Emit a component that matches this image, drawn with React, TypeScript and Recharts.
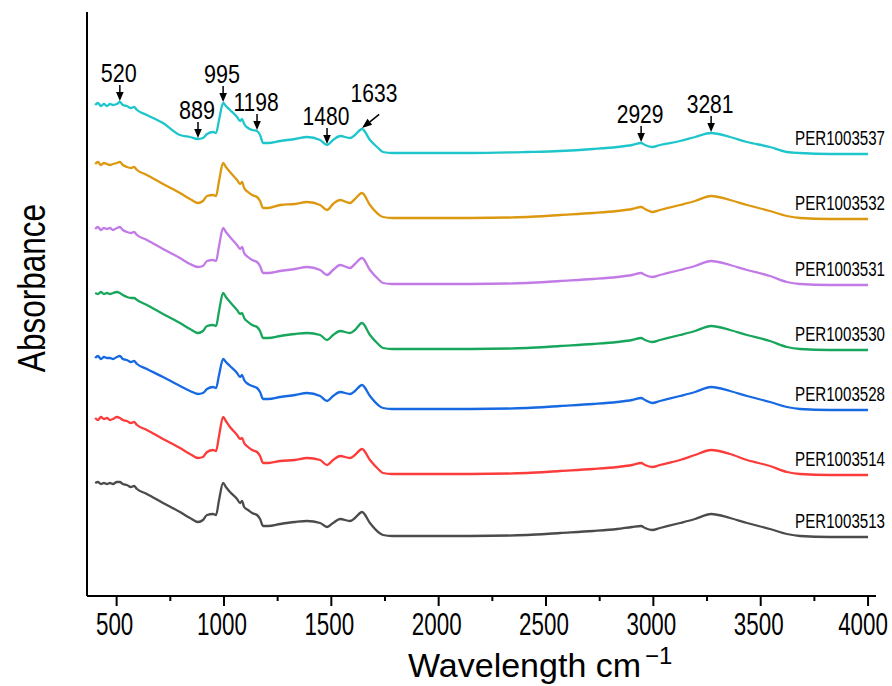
import React from "react";
import { LineChart, Line, XAxis, YAxis, ReferenceDot, Label } from "recharts";

const FONT = "'Liberation Sans', Arial, sans-serif";

// wavenumber grid (cm-1), shared by all spectra
const wavenumbers = [
  400, 413, 427, 441, 455, 469, 483, 501, 515, 529,
  548, 567, 581, 595, 641, 716, 795, 842, 879, 902,
  921, 949, 963, 977, 996, 1009, 1028, 1061, 1075, 1084,
  1094, 1112, 1131, 1154, 1168, 1182, 1206, 1262, 1331, 1387,
  1448, 1480, 1508, 1541, 1587, 1610, 1643, 1680, 1718, 1741,
  1783, 1913, 2146, 2411, 2565, 2719, 2831, 2901, 2943, 2961,
  2994, 3031, 3124, 3194, 3269, 3357, 3436, 3543, 3622, 3683,
  3823, 4000,
];

// absorbance (stacked, a.u.)
const per1003537 = [
  4.91, 4.93, 4.9, 4.92, 4.9, 4.92, 4.91, 4.92, 4.94, 4.91,
  4.9, 4.88, 4.89, 4.86, 4.81, 4.73, 4.61, 4.59, 4.57, 4.58,
  4.62, 4.64, 4.63, 4.76, 4.93, 4.9, 4.86, 4.79, 4.75, 4.77,
  4.72, 4.68, 4.66, 4.65, 4.61, 4.53, 4.53, 4.55, 4.57, 4.59,
  4.56, 4.51, 4.56, 4.6, 4.58, 4.61, 4.67, 4.56, 4.48, 4.44,
  4.43, 4.43, 4.43, 4.44, 4.45, 4.47, 4.49, 4.51, 4.53, 4.51,
  4.49, 4.51, 4.55, 4.59, 4.63, 4.59, 4.54, 4.49, 4.44, 4.43,
  4.42, 4.42,
];
const per1003532 = [
  4.32, 4.34, 4.31, 4.33, 4.32, 4.31, 4.32, 4.33, 4.34, 4.31,
  4.29, 4.28, 4.29, 4.26, 4.21, 4.12, 4.03, 3.97, 3.93, 3.95,
  4.0, 4.01, 4.0, 4.15, 4.33, 4.29, 4.24, 4.16, 4.12, 4.14,
  4.08, 4.04, 4.01, 3.99, 3.95, 3.88, 3.88, 3.91, 3.92, 3.94,
  3.91, 3.86, 3.92, 3.96, 3.93, 3.97, 4.03, 3.91, 3.82, 3.79,
  3.78, 3.78, 3.78, 3.79, 3.81, 3.83, 3.85, 3.87, 3.89, 3.87,
  3.84, 3.86, 3.91, 3.95, 4.0, 3.96, 3.91, 3.85, 3.8, 3.78,
  3.77, 3.77,
];
const per1003531 = [
  3.67, 3.69, 3.66, 3.68, 3.67, 3.68, 3.66, 3.68, 3.69, 3.66,
  3.64, 3.63, 3.64, 3.61, 3.56, 3.47, 3.38, 3.32, 3.29, 3.3,
  3.35, 3.36, 3.35, 3.5, 3.68, 3.64, 3.59, 3.51, 3.47, 3.49,
  3.43, 3.39, 3.36, 3.34, 3.3, 3.23, 3.23, 3.25, 3.27, 3.29,
  3.26, 3.21, 3.26, 3.31, 3.28, 3.32, 3.38, 3.26, 3.17, 3.13,
  3.12, 3.12, 3.12, 3.13, 3.15, 3.17, 3.19, 3.21, 3.23, 3.21,
  3.19, 3.21, 3.26, 3.3, 3.35, 3.31, 3.26, 3.2, 3.14, 3.12,
  3.11, 3.11,
];
const per1003530 = [
  3.03, 3.02, 3.04, 3.02, 3.03, 3.02, 3.03, 3.04, 3.03, 3.01,
  2.99, 2.98, 2.98, 2.96, 2.91, 2.82, 2.73, 2.67, 2.63, 2.65,
  2.7, 2.71, 2.7, 2.85, 3.03, 2.99, 2.94, 2.86, 2.82, 2.83,
  2.78, 2.74, 2.71, 2.69, 2.65, 2.58, 2.58, 2.6, 2.62, 2.63,
  2.61, 2.56, 2.61, 2.65, 2.63, 2.66, 2.73, 2.61, 2.52, 2.48,
  2.47, 2.47, 2.47, 2.48, 2.5, 2.52, 2.54, 2.56, 2.58, 2.56,
  2.54, 2.56, 2.61, 2.65, 2.7, 2.66, 2.61, 2.55, 2.49, 2.47,
  2.46, 2.46,
];
const per1003528 = [
  2.38, 2.4, 2.37, 2.39, 2.38, 2.38, 2.37, 2.39, 2.4, 2.37,
  2.36, 2.34, 2.35, 2.32, 2.27, 2.19, 2.1, 2.05, 2.02, 2.03,
  2.07, 2.09, 2.08, 2.21, 2.37, 2.34, 2.3, 2.23, 2.19, 2.21,
  2.16, 2.12, 2.1, 2.08, 2.04, 1.97, 1.97, 1.99, 2.01, 2.03,
  2.0, 1.95, 2.0, 2.04, 2.02, 2.05, 2.11, 2.0, 1.91, 1.88,
  1.87, 1.87, 1.87, 1.88, 1.9, 1.92, 1.94, 1.96, 1.98, 1.96,
  1.93, 1.95, 2.0, 2.04, 2.09, 2.05, 2.0, 1.94, 1.89, 1.87,
  1.86, 1.86,
];
const per1003514 = [
  1.78, 1.76, 1.79, 1.77, 1.78, 1.76, 1.77, 1.79, 1.78, 1.76,
  1.75, 1.73, 1.74, 1.71, 1.66, 1.57, 1.48, 1.42, 1.38, 1.39,
  1.44, 1.46, 1.45, 1.6, 1.79, 1.75, 1.69, 1.61, 1.57, 1.58,
  1.53, 1.49, 1.46, 1.44, 1.4, 1.33, 1.33, 1.35, 1.36, 1.38,
  1.36, 1.31, 1.36, 1.4, 1.38, 1.41, 1.47, 1.36, 1.27, 1.23,
  1.22, 1.22, 1.22, 1.23, 1.25, 1.27, 1.29, 1.31, 1.33, 1.31,
  1.29, 1.31, 1.36, 1.41, 1.46, 1.42, 1.36, 1.3, 1.24, 1.22,
  1.21, 1.21,
];
const per1003513 = [
  1.13, 1.14, 1.12, 1.13, 1.12, 1.13, 1.12, 1.14, 1.14, 1.12,
  1.11, 1.09, 1.1, 1.07, 1.02, 0.93, 0.84, 0.78, 0.74, 0.76,
  0.81, 0.82, 0.81, 0.96, 1.13, 1.09, 1.04, 0.97, 0.93, 0.95,
  0.89, 0.86, 0.83, 0.81, 0.77, 0.7, 0.7, 0.72, 0.74, 0.75,
  0.73, 0.69, 0.73, 0.77, 0.75, 0.78, 0.84, 0.73, 0.64, 0.61,
  0.6, 0.6, 0.6, 0.61, 0.63, 0.65, 0.67, 0.69, 0.7, 0.68,
  0.66, 0.68, 0.73, 0.77, 0.82, 0.78, 0.73, 0.67, 0.62, 0.6,
  0.59, 0.59,
];

const seriesNames = [
  "PER1003537", "PER1003532", "PER1003531", "PER1003530",
  "PER1003528", "PER1003514", "PER1003513",
];
const seriesValues = [
  per1003537, per1003532, per1003531, per1003530,
  per1003528, per1003514, per1003513,
];
const seriesColors = [
  "#1ec6cb", "#dc980e", "#c27be6", "#17a65b",
  "#1769e2", "#fc3b3b", "#4b4b4b",
];

// band annotations on the top spectrum
const peakLabels = ["520", "889", "995", "1198", "1480", "1633", "2929", "3281"];
const peakAt = [515, 879, 996, 1154, 1480, 1643, 2943, 3269];

const xTicks = [500, 750, 1000, 1250, 1500, 1750, 2000, 2250, 2500, 2750, 3000, 3250, 3500, 3750, 4000];

const data = wavenumbers.map((x, i) => {
  const row: Record<string, number> = { x };
  seriesValues.forEach((s, k) => {
    row["s" + k] = s[i];
  });
  return row;
});

// condensed-looking text: real text squeezed horizontally
function Narrow({ x, y, size, sx, anchor = "middle", rotate = 0, baseline, children }: any) {
  const tf = `translate(${x},${y})${rotate ? ` rotate(${rotate})` : ""} scale(${sx},1)`;
  return (
    <text
      transform={tf}
      x={0}
      y={0}
      textAnchor={anchor}
      dominantBaseline={baseline}
      fontSize={size}
      fontFamily={FONT}
      fill="#000"
    >
      {children}
    </text>
  );
}

function XTick(props: any) {
  const { x, y, payload } = props;
  const v = payload.value as number;
  const major = v % 500 === 0;
  return (
    <g>
      <line x1={x} x2={x} y1={y} y2={y + (major ? 10 : 5)} stroke="#000" strokeWidth={2} />
      {major && (
        <Narrow x={x - (v === 4000 ? 5 : 2)} y={y + 39} size={32} sx={0.7}>
          {String(v)}
        </Narrow>
      )}
    </g>
  );
}

function PeakArrow(props: any, label: string) {
  const { cx, cy } = props;
  if (cx == null || cy == null) return <g />;
  const tipX = cx;
  const tipY = cy - 1;
  const sx = label.length === 3 ? 0.83 : 0.81;
  if (label === "1633") {
    // slanted arrow pointing down-left
    const ux = 0.78;
    const uy = -0.62;
    const len = 22;
    const head = 10;
    const bx = tipX + ux * head;
    const by = tipY + uy * head;
    const px = -uy * 3.8;
    const py = ux * 3.8;
    return (
      <g>
        <line x1={bx} y1={by} x2={tipX + ux * len} y2={tipY + uy * len} stroke="#000" strokeWidth={1.5} />
        <polygon points={`${tipX},${tipY} ${bx + px},${by + py} ${bx - px},${by - py}`} fill="#000" />
        <Narrow x={tipX + 12} y={tipY - 26} size={26} sx={sx}>{label}</Narrow>
      </g>
    );
  }
  return (
    <g>
      <line x1={tipX} x2={tipX} y1={tipY - 16} y2={tipY - 8} stroke="#000" strokeWidth={1.5} />
      <polygon points={`${tipX - 3.8},${tipY - 9} ${tipX + 3.8},${tipY - 9} ${tipX},${tipY}`} fill="#000" />
      <Narrow x={tipX - 1} y={tipY - 19} size={26} sx={sx}>{label}</Narrow>
    </g>
  );
}

function SeriesTag(props: any, name: string) {
  const { cx, cy } = props;
  if (cx == null || cy == null) return <g />;
  return (
    <Narrow x={cx - 28} y={cy - 9} size={21} sx={0.72}>{name}</Narrow>
  );
}

export default function App() {
  const last = wavenumbers.length - 1;
  return (
    <div style={{ position: "absolute", left: 0, top: 0, background: "#fff" }}>
      <LineChart width={892} height={686} data={data} margin={{ top: 12, right: 16, bottom: 0, left: 0 }}>
        <XAxis
          dataKey="x"
          type="number"
          domain={[362, 4037]}
          ticks={xTicks}
          interval={0}
          allowDataOverflow
          height={90}
          tickSize={0}
          tickMargin={0}
          tickLine={false}
          axisLine={{ stroke: "#000", strokeWidth: 2 }}
          tick={(p: any) => <XTick {...p} />}
        >
          <Label
            content={(p: any) => {
              const vb = p.viewBox || { x: 87, y: 596 };
              return (
                <text x={vb.x + 321} y={vb.y + 81} fontSize={34} fontFamily={FONT} fill="#000">
                  Wavelength cm
                  <tspan dx={4} dy={-13} fontSize={24}>−1</tspan>
                </text>
              );
            }}
          />
        </XAxis>
        <YAxis
          type="number"
          domain={[0, 5.84]}
          ticks={[0, 5.84]}
          allowDataOverflow
          width={87}
          tick={false}
          tickSize={5}
          tickLine={{ stroke: "#000", strokeWidth: 2 }}
          axisLine={{ stroke: "#000", strokeWidth: 2 }}
        >
          <Label
            content={(p: any) => {
              const vb = p.viewBox || { x: 0, y: 12, width: 87, height: 584 };
              return (
                <Narrow
                  x={vb.x + 31}
                  y={vb.y + vb.height / 2 - 16}
                  rotate={-90}
                  size={38}
                  sx={0.83}
                  baseline="central"
                >
                  Absorbance
                </Narrow>
              );
            }}
          />
        </YAxis>
        {seriesValues.map((_, k) => (
          <Line
            key={seriesNames[k]}
            dataKey={"s" + k}
            name={seriesNames[k]}
            type="monotone"
            stroke={seriesColors[k]}
            strokeWidth={2.3}
            dot={false}
            activeDot={false}
            isAnimationActive={false}
          />
        ))}
        {seriesValues.map((s, k) => (
          <ReferenceDot
            key={"tag" + k}
            x={wavenumbers[last]}
            y={s[last]}
            r={0}
            shape={(p: any) => SeriesTag(p, seriesNames[k])}
          />
        ))}
        {peakLabels.map((lab, i) => (
          <ReferenceDot
            key={"pk" + lab}
            x={peakAt[i]}
            y={per1003537[wavenumbers.indexOf(peakAt[i])]}
            r={0}
            shape={(p: any) => PeakArrow(p, lab)}
          />
        ))}
      </LineChart>
    </div>
  );
}
